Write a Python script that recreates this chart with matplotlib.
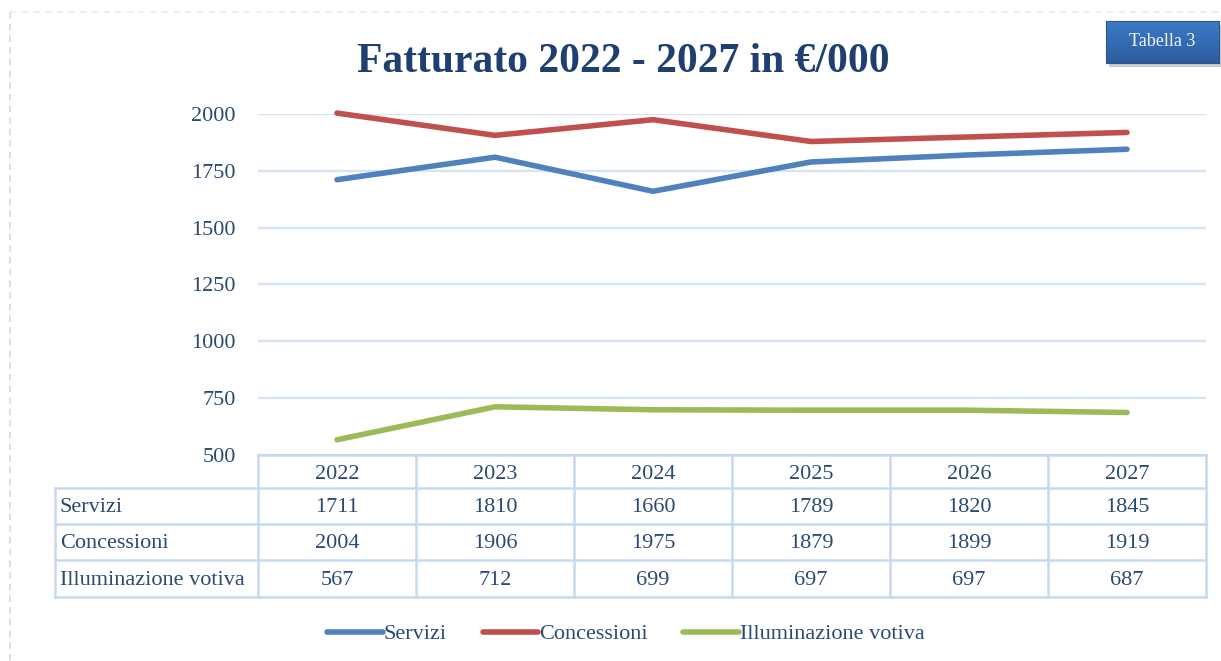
import numpy as np
import matplotlib.pyplot as plt
from matplotlib.lines import Line2D
from matplotlib.patches import Rectangle

years = ['2022', '2023', '2024', '2025', '2026', '2027']
servizi = [1711, 1810, 1660, 1789, 1820, 1845]
concessioni = [2004, 1906, 1975, 1879, 1899, 1919]
illuminazione = [567, 712, 699, 697, 697, 687]

series_names = ['Servizi', 'Concessioni', 'Illuminazione votiva']
series_values = [servizi, concessioni, illuminazione]
series_colors = ['#4F81BD', '#C0504D', '#9BBB59']

yticks = [500, 750, 1000, 1250, 1500, 1750, 2000]

text_col = '#2B4A73'
grid_col = '#D6E3F3'
W, H = 1221, 661
fs = 16

plt.rcParams['font.family'] = ['Liberation Serif', 'DejaVu Serif']

fig = plt.figure(figsize=(W / 100, H / 100), dpi=100, facecolor='white')

def fx(px):
    return px / W

def fy(py):
    return 1 - py / H

# main line chart
ax = fig.add_axes([fx(258), fy(455), fx(1206) - fx(258), fy(114) - fy(455)])
ax.set_xlim(-0.5, len(years) - 0.5)
ax.set_ylim(500, 2000)
for s in ax.spines.values():
    s.set_visible(False)
ax.set_xticks([])
ax.set_yticks(yticks)
ax.tick_params(axis='y', length=0, pad=16, labelsize=fs, labelcolor=text_col)
for t in yticks:
    ax.axhline(t, color=grid_col, lw=1.6, zorder=1)

x = np.arange(len(years))
handles = []
for name, vals, c in zip(series_names, series_values, series_colors):
    ln, = ax.plot(x, vals, color=c, lw=4.0, solid_capstyle='round', zorder=3, clip_on=False)
    handles.append(ln)

# data table below the chart
tax = fig.add_axes([fx(55), fy(597), fx(1206) - fx(55), fy(455) - fy(597)])
tax.set_xlim(55, 1206)
tax.set_ylim(597, 455)
tax.axis('off')

col_left = 258
col_w = (1206 - 258) / len(years)
row_edges = [455, 488, 524, 560, 597]
tcol = '#C6D9F1'
tlw = 1.8

# header row
tax.plot([col_left, 1206], [455, 455], color=tcol, lw=tlw, clip_on=False)
for r in row_edges[1:]:
    tax.plot([55, 1206], [r, r], color=tcol, lw=tlw, clip_on=False)
tax.plot([55, 55], [488, 597], color=tcol, lw=tlw, clip_on=False)
for i in range(len(years) + 1):
    xx = col_left + i * col_w
    tax.plot([xx, xx], [455, 597], color=tcol, lw=tlw, clip_on=False)

for i, yr in enumerate(years):
    tax.text(col_left + (i + 0.5) * col_w, (455 + 488) / 2 + 3, yr,
             ha='center', va='center', fontsize=fs, color=text_col)

for r, (name, vals) in enumerate(zip(series_names, series_values)):
    yc = (row_edges[r + 1] + row_edges[r + 2]) / 2 + 2
    tax.text(60, yc, name, ha='left', va='center', fontsize=fs, color=text_col)
    for i, v in enumerate(vals):
        tax.text(col_left + (i + 0.5) * col_w, yc, str(v),
                 ha='center', va='center', fontsize=fs, color=text_col)

# title
fig.text(fx(623), fy(62), 'Fatturato 2022 - 2027 in €/000', ha='center', va='center',
         fontsize=30, fontweight='bold', color='#1F3F6F')

# legend
fig.legend(handles, series_names, loc='center', bbox_to_anchor=(fx(626), fy(634)),
           ncol=3, frameon=False, fontsize=fs, handlelength=2.5, handletextpad=0.05,
           columnspacing=1.6, labelcolor=text_col)

# "Tabella 3" box with shadow and gradient
fig.add_artist(Rectangle((fx(1109), fy(67)), fx(113), fy(21) - fy(63),
                         transform=fig.transFigure, facecolor='#9A9A9A', alpha=0.5,
                         edgecolor='none', zorder=4))
bax = fig.add_axes([fx(1106), fy(63), fx(113), fy(21) - fy(63)], zorder=5)
grad = np.linspace(0, 1, 64).reshape(-1, 1)
bax.imshow(grad, aspect='auto', cmap=plt.matplotlib.colors.LinearSegmentedColormap.from_list(
    'tb', ['#3B7BC8', '#2D5C9C']), extent=[0, 1, 0, 1], origin='upper')
bax.set_xticks([])
bax.set_yticks([])
for s in bax.spines.values():
    s.set_color('#2A5590')
    s.set_linewidth(0.8)
bax.text(0.5, 0.5, 'Tabella 3', ha='center', va='center', fontsize=13, color='#F2F5FA',
         transform=bax.transAxes)

# dashed page border
fig.add_artist(Line2D([fx(10), fx(10)], [fy(12), 0], transform=fig.transFigure,
                      color='#C9DAEE', lw=1.2, ls=(0, (4, 3))))
fig.add_artist(Line2D([fx(10), 1], [fy(12), fy(12)], transform=fig.transFigure,
                      color='#E3ECF7', lw=1.2, ls=(0, (4, 3))))

fig.savefig('out.png', dpi=100, facecolor='white')
